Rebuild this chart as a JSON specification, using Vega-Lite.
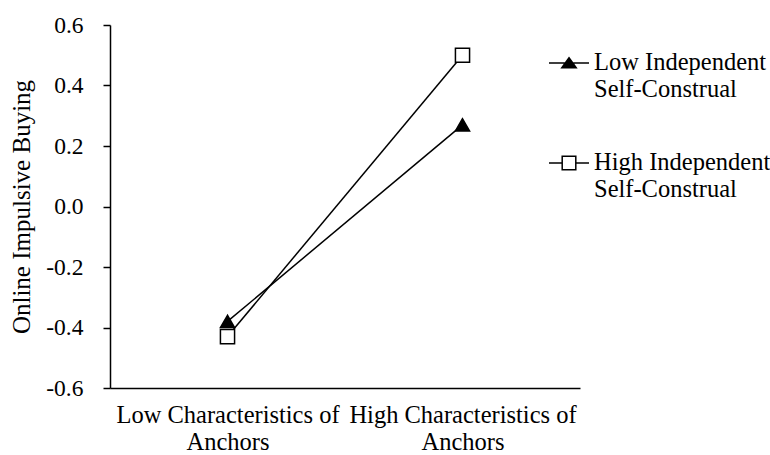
{
  "$schema": "https://vega.github.io/schema/vega-lite/v6.json",
  "width": 470,
  "height": 363,
  "autosize": "none",
  "padding": {"left": 110, "top": 25, "right": 190, "bottom": 67},
  "background": "white",
  "config": {
    "view": {"stroke": null},
    "font": "Liberation Serif",
    "axis": {"labelColor": "black", "titleColor": "black", "domainColor": "black", "tickColor": "black", "domainWidth": 1.5, "tickWidth": 1.5, "grid": false, "titleFontWeight": "normal", "labelLimit": 0}
  },
  "data": {
    "values": [
      {"anchor": "Low Characteristics of Anchors", "series": "Low Independent Self-Construal", "value": -0.38},
      {"anchor": "High Characteristics of Anchors", "series": "Low Independent Self-Construal", "value": 0.27},
      {"anchor": "Low Characteristics of Anchors", "series": "High Independent Self-Construal", "value": -0.43},
      {"anchor": "High Characteristics of Anchors", "series": "High Independent Self-Construal", "value": 0.5}
    ]
  },
  "encoding": {
    "x": {
      "field": "anchor", "type": "nominal",
      "sort": ["Low Characteristics of Anchors", "High Characteristics of Anchors"],
      "scale": {"padding": 0.5},
      "axis": {"title": null, "labelAngle": 0, "ticks": false, "labelFontSize": 24.5, "labelPadding": 15, "labelLineHeight": 27, "labelOverlap": false,
        "labelExpr": "[slice(datum.label, 0, indexof(datum.label, ' Anchors')), 'Anchors']"}
    },
    "y": {
      "field": "value", "type": "quantitative",
      "scale": {"domain": [-0.6, 0.6], "nice": false, "zero": false},
      "axis": {"values": [-0.6, -0.4, -0.2, 0, 0.2, 0.4, 0.6], "tickSize": 7, "labelFontSize": 23.5, "labelPadding": 20,
        "labelExpr": "(datum.value < -0.001 ? '-' : '') + format(abs(datum.value), '.1f')",
        "title": "Online Impulsive Buying", "titleFontSize": 25, "titlePadding": 11}
    }
  },
  "layer": [
    {
      "mark": {"type": "line", "color": "black", "strokeWidth": 1.5},
      "encoding": {"detail": {"field": "series"}}
    },
    {
      "mark": {"type": "point", "filled": false, "stroke": "black", "strokeWidth": 1.5, "size": 200, "opacity": 1},
      "encoding": {
        "shape": {"field": "series", "scale": {"domain": ["Low Independent Self-Construal", "High Independent Self-Construal"], "range": ["triangle-up", "square"]}, "legend": null},
        "fill": {"field": "series", "scale": {"domain": ["Low Independent Self-Construal", "High Independent Self-Construal"], "range": ["black", "white"]}, "legend": null}
      }
    },
    {
      "mark": {"type": "point", "filled": false, "opacity": 0, "size": 1},
      "encoding": {
        "shape": {"field": "series", "scale": {"domain": ["Low Independent Self-Construal", "High Independent Self-Construal"],
          "range": ["M-1,0H1M0,-0.26L0.36,0.24L-0.36,0.24Z", "M-1,0H-0.34M0.34,0H1M-0.34,-0.34H0.34V0.34H-0.34Z"]},
          "legend": {"title": null, "orient": "none", "legendX": 438, "legendY": 17, "padding": 0, "symbolSize": 1600, "symbolStrokeColor": "black", "symbolStrokeWidth": 1.5, "symbolOpacity": 1, "labelFontSize": 24.5, "labelColor": "black", "labelOffset": 4, "labelLineHeight": 27, "rowPadding": 41, "labelLimit": 0,
            "labelExpr": "[trim(slice(datum.label, 0, indexof(datum.label, 'Self'))), slice(datum.label, indexof(datum.label, 'Self'))]",
            "encode": {"symbols": {"update": {"opacity": {"value": 1}, "strokeOpacity": {"value": 1}, "fillOpacity": {"value": 1}, "stroke": {"value": "black"}}}}}},
        "fill": {"field": "series", "scale": {"domain": ["Low Independent Self-Construal", "High Independent Self-Construal"], "range": ["black", "white"]},
          "legend": {"title": null, "orient": "none", "legendX": 438, "legendY": 17, "padding": 0, "symbolSize": 1600, "symbolStrokeColor": "black", "symbolStrokeWidth": 1.5, "symbolOpacity": 1, "labelFontSize": 24.5, "labelColor": "black", "labelOffset": 4, "labelLineHeight": 27, "rowPadding": 41, "labelLimit": 0,
            "labelExpr": "[trim(slice(datum.label, 0, indexof(datum.label, 'Self'))), slice(datum.label, indexof(datum.label, 'Self'))]",
            "encode": {"symbols": {"update": {"opacity": {"value": 1}, "strokeOpacity": {"value": 1}, "fillOpacity": {"value": 1}, "stroke": {"value": "black"}}}}}}
      }
    }
  ],
  "resolve": {"scale": {"shape": "independent", "fill": "independent"}}
}
